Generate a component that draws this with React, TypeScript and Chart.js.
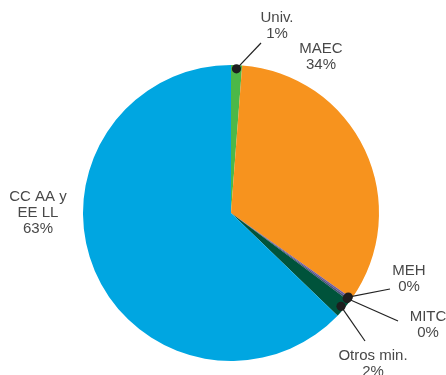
import React, { useEffect, useRef } from "react";
import { Chart, registerables } from "chart.js";

Chart.register(...registerables);

const categories = ["Univ.", "MAEC", "MEH", "MITC", "Otros min.", "CC AA y EE LL"];
const values = [1.2, 33.6, 0.2, 0.2, 2.0, 62.8];
const percentLabels = ["1%", "34%", "0%", "0%", "2%", "63%"];
const colors = ["#4cb848", "#f7931e", "#6d5a9c", "#4a4f7a", "#00533b", "#00a6e1"];

// label layout (annotation positions relative to pie centre), not data
const labelLayout = [
  { tx: 46, ty: -195, lx: 30, ly: -170, dot: true },
  { tx: 90, ty: -164, dot: false },
  { tx: 178, ty: 58, lx: 159, ly: 76, dot: true },
  { tx: 197, ty: 104, lx: 167, ly: 108, dot: true },
  { tx: 142, ty: 143, lx: 134, ly: 128, dot: true },
  { tx: -193, ty: -16, dot: false },
];

const labelPlugin = {
  id: "pieLabels",
  afterDatasetsDraw(chart: any) {
    const ctx = chart.ctx;
    const meta = chart.getDatasetMeta(0);
    ctx.save();
    ctx.font = "15px 'Liberation Sans', Arial, sans-serif";
    ctx.textAlign = "center";
    ctx.textBaseline = "middle";
    meta.data.forEach((arc: any, i: number) => {
      const p = arc.getProps(["x", "y", "startAngle", "endAngle", "outerRadius"], true);
      const cfg = labelLayout[i];
      const mid = (p.startAngle + p.endAngle) / 2;
      const r = p.outerRadius * 0.975;
      const dx = p.x + Math.cos(mid) * r;
      const dy = p.y + Math.sin(mid) * r;
      if (cfg.dot) {
        ctx.strokeStyle = "#222";
        ctx.lineWidth = 1.2;
        ctx.beginPath();
        ctx.moveTo(dx, dy);
        ctx.lineTo(p.x + (cfg.lx as number), p.y + (cfg.ly as number));
        ctx.stroke();
        ctx.fillStyle = "#1e1e1e";
        ctx.beginPath();
        ctx.arc(dx, dy, 4.6, 0, Math.PI * 2);
        ctx.fill();
      }
      ctx.fillStyle = "#484848";
      const lines = categories[i] === "CC AA y EE LL" ? ["CC AA y", "EE LL"] : [categories[i]];
      lines.push(percentLabels[i]);
      lines.forEach((t, k) => {
        ctx.fillText(t, p.x + cfg.tx, p.y + cfg.ty + k * 16);
      });
    });
    ctx.restore();
  },
};

export default function App() {
  const ref = useRef<HTMLCanvasElement | null>(null);
  useEffect(() => {
    if (!ref.current) return;
    const chart = new Chart(ref.current, {
      type: "pie",
      data: {
        labels: categories,
        datasets: [
          {
            data: values,
            backgroundColor: colors,
            borderWidth: 0,
          },
        ],
      },
      options: {
        responsive: false,
        animation: false,
        layout: { padding: { left: 83, right: 67, top: 65, bottom: 14 } },
        plugins: {
          legend: { display: false },
          tooltip: { enabled: false },
        },
      },
      plugins: [labelPlugin],
    });
    return () => chart.destroy();
  }, []);
  return (
    <div style={{ position: "fixed", left: 0, top: 0, width: 446, height: 375, background: "#fff" }}>
      <canvas ref={ref} width={446} height={375} style={{ width: 446, height: 375 }} />
    </div>
  );
}
